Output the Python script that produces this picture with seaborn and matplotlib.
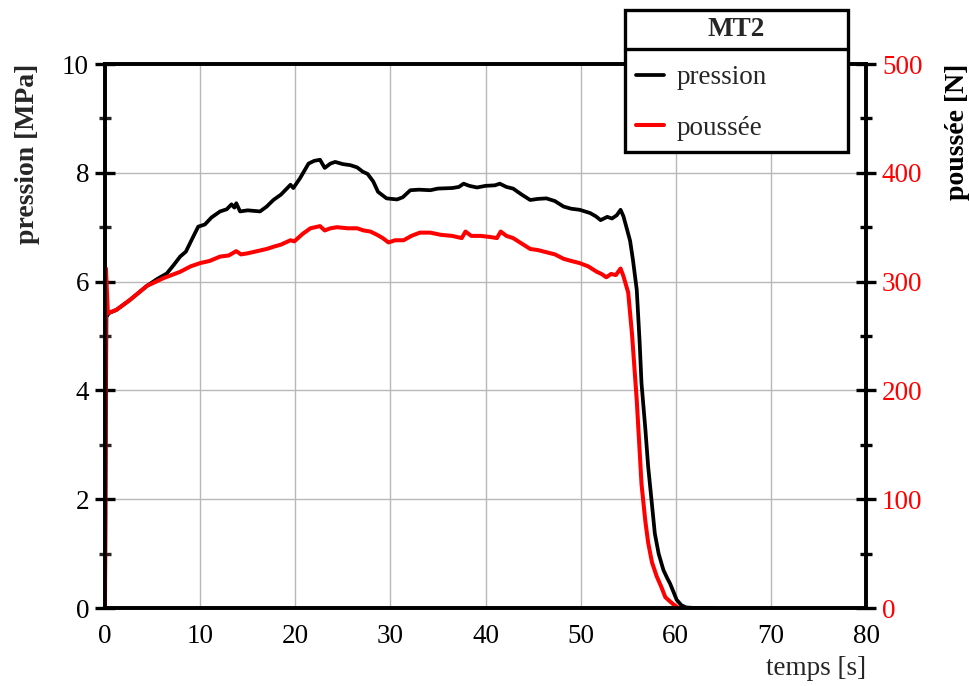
import matplotlib
matplotlib.use("Agg")
import matplotlib.pyplot as plt
from matplotlib.ticker import MultipleLocator
from matplotlib.lines import Line2D
from matplotlib.patches import Rectangle
import seaborn as sns
import pandas as pd

# ---- data ----
t_pression = [0.0, 0.15, 0.4, 1.2, 2.6, 4.4, 5.5, 6.5, 7.2, 7.9, 8.5, 9.2, 9.8, 10.5, 11.2,
              12.1, 12.8, 13.3, 13.6, 13.8, 14.2, 15.0, 16.3, 17.0, 17.7, 18.5, 19.5, 19.8,
              20.5, 21.4, 22.0, 22.6, 23.1, 23.7, 24.2, 25.0, 25.8, 26.5, 27.1, 27.6, 28.2,
              28.7, 29.6, 30.7, 31.3, 32.1, 33.0, 34.2, 35.0, 36.5, 37.2, 37.7, 38.3, 39.1,
              40.0, 41.0, 41.5, 42.2, 42.9, 43.8, 44.7, 45.5, 46.4, 47.3, 48.2, 49.0, 49.9,
              51.0, 51.6, 52.1, 52.8, 53.3, 53.8, 54.2, 54.5, 54.8, 55.2, 55.5, 55.9, 56.2,
              56.4, 56.8, 57.1, 57.5, 57.8, 58.2, 58.7, 59.1, 59.4, 59.8, 60.1, 60.6, 61.1,
              62.0, 64.0]
pression = [0.0, 5.35, 5.42, 5.48, 5.66, 5.92, 6.05, 6.15, 6.30, 6.46, 6.55, 6.80, 7.01, 7.05,
            7.18, 7.29, 7.33, 7.42, 7.36, 7.44, 7.29, 7.31, 7.29, 7.38, 7.50, 7.60, 7.78, 7.72,
            7.90, 8.17, 8.22, 8.24, 8.09, 8.17, 8.20, 8.16, 8.14, 8.10, 8.02, 7.98, 7.84, 7.65,
            7.53, 7.51, 7.55, 7.68, 7.69, 7.68, 7.71, 7.72, 7.74, 7.80, 7.76, 7.73, 7.76, 7.77,
            7.80, 7.74, 7.71, 7.60, 7.50, 7.52, 7.53, 7.48, 7.38, 7.34, 7.32, 7.26, 7.20, 7.13,
            7.19, 7.16, 7.22, 7.32, 7.20, 7.01, 6.75, 6.40, 5.85, 4.90, 4.13, 3.30, 2.60, 1.90,
            1.37, 1.00, 0.70, 0.55, 0.45, 0.28, 0.15, 0.05, 0.01, 0.0, 0.0]

t_poussee = [0.0, 0.1, 0.3, 0.6, 1.2, 2.6, 4.4, 6.1, 7.9, 9.0, 10.0, 11.0, 12.1, 13.0, 13.8,
             14.3, 15.0, 16.0, 17.0, 17.7, 18.5, 19.5, 19.9, 20.8, 21.6, 22.1, 22.6, 23.1,
             23.7, 24.4, 25.5, 26.5, 27.2, 27.9, 28.6, 29.2, 29.8, 30.5, 31.4, 32.2, 33.1,
             34.2, 35.3, 36.5, 37.5, 37.9, 38.5, 39.5, 40.5, 41.2, 41.6, 42.2, 42.9, 43.8,
             44.7, 45.5, 46.4, 47.3, 48.2, 49.0, 49.9, 50.8, 51.7, 52.2, 52.7, 53.2, 53.7,
             54.2, 54.5, 55.0, 55.4, 55.9, 56.2, 56.4, 56.8, 57.1, 57.5, 58.0, 58.5, 58.9,
             59.4, 59.8, 60.3]
poussee = [0, 312, 271, 272, 274, 283, 296, 303, 309, 314, 317, 319, 323, 324, 328, 325, 326,
           328, 330, 332, 334, 338, 337, 344, 349, 350, 351, 347, 349, 350, 349, 349, 347, 346,
           343, 340, 336, 338, 338, 342, 345, 345, 343, 342, 340, 346, 342, 342, 341, 340, 346,
           342, 340, 335, 330, 329, 327, 325, 321, 319, 317, 314, 309, 307, 304, 307, 306, 312,
           305, 290, 252, 191, 145, 114, 80, 60, 42, 29, 19, 10, 6, 3, 0]

x_ticks = [0, 10, 20, 30, 40, 50, 60, 70, 80]
y_left_ticks = [0, 2, 4, 6, 8, 10]
y_right_ticks = [0, 100, 200, 300, 400, 500]

df_p = pd.DataFrame({"temps": t_pression, "pression": pression})
df_f = pd.DataFrame({"temps": t_poussee, "poussee": poussee})

# ---- style ----
sns.set_style("white")
plt.rcParams["font.family"] = ["Liberation Serif", "DejaVu Serif"]
plt.rcParams["axes.linewidth"] = 2.6

FS = 19.5

fig = plt.figure(figsize=(9.69, 6.86), dpi=100)
ax = fig.add_axes([105 / 969, 1 - 608 / 686, (866 - 105) / 969, (608 - 64) / 686])
ax2 = ax.twinx()

sns.lineplot(data=df_p, x="temps", y="pression", ax=ax, color="black", lw=2.7,
             legend=False, sort=False)
sns.lineplot(data=df_f, x="temps", y="poussee", ax=ax2, color="#ff0000", lw=2.9,
             legend=False, sort=False)

ax.set_xlim(0, 80)
ax.set_ylim(0, 10)
ax2.set_ylim(0, 500)
ax.set_xticks(x_ticks)
ax.set_yticks(y_left_ticks)
ax2.set_yticks(y_right_ticks)
ax.xaxis.set_minor_locator(MultipleLocator(5))
ax.yaxis.set_minor_locator(MultipleLocator(1))
ax2.yaxis.set_minor_locator(MultipleLocator(50))

ax.grid(which="major", color="#b8b8b8", lw=1.0)
ax.set_axisbelow(True)

for a in (ax, ax2):
    for s in a.spines.values():
        s.set_linewidth(2.6)
        s.set_color("black")

ax.tick_params(axis="both", which="major", direction="inout", length=15, width=2.4,
               labelsize=FS, pad=4, colors="black", right=False)
ax.tick_params(axis="both", which="minor", direction="inout", length=8, width=2.4,
               right=False)
ax2.tick_params(axis="y", which="major", direction="inout", length=15, width=2.4,
                labelsize=FS, pad=4, color="black", labelcolor="#ff0000")
ax2.tick_params(axis="y", which="minor", direction="inout", length=8, width=2.4, color="black")

ax.set_xlabel("temps [s]", fontsize=FS, loc="right", labelpad=5)
ax.set_ylabel("pression [MPa]", fontsize=20, fontweight="bold", loc="top", labelpad=16)
ax2.set_ylabel("poussée [N]", fontsize=20, fontweight="bold", loc="top", labelpad=16,
               color="black")

# ---- legend box ----
W, H = 969, 686
bx0, bx1, by0, by1, bsep = 625, 848, 10, 152, 49
box = Rectangle((bx0 / W, 1 - by1 / H), (bx1 - bx0) / W, (by1 - by0) / H,
                transform=fig.transFigure, facecolor="white", edgecolor="black",
                lw=2.4, zorder=5)
fig.patches.append(box)
sep = Line2D([bx0 / W, bx1 / W], [1 - bsep / H, 1 - bsep / H], transform=fig.transFigure,
             color="black", lw=2.4, zorder=6)
fig.lines.append(sep)
fig.text((bx0 + bx1) / 2 / W, 1 - 30 / H, "MT2", ha="center", va="center",
         fontsize=FS, fontweight="bold", zorder=7)

handles = [Line2D([], [], color="black", lw=2.7), Line2D([], [], color="#ff0000", lw=2.9)]
leg = fig.legend(handles, ["pression", "poussée"], loc="center left",
                 bbox_to_anchor=(636 / W, 1 - 103 / H), frameon=False, fontsize=FS,
                 handlelength=1.05, handletextpad=0.45, labelspacing=0.93,
                 borderpad=0, borderaxespad=0)
leg.set_zorder(8)

fig.savefig("out.png", dpi=100)
